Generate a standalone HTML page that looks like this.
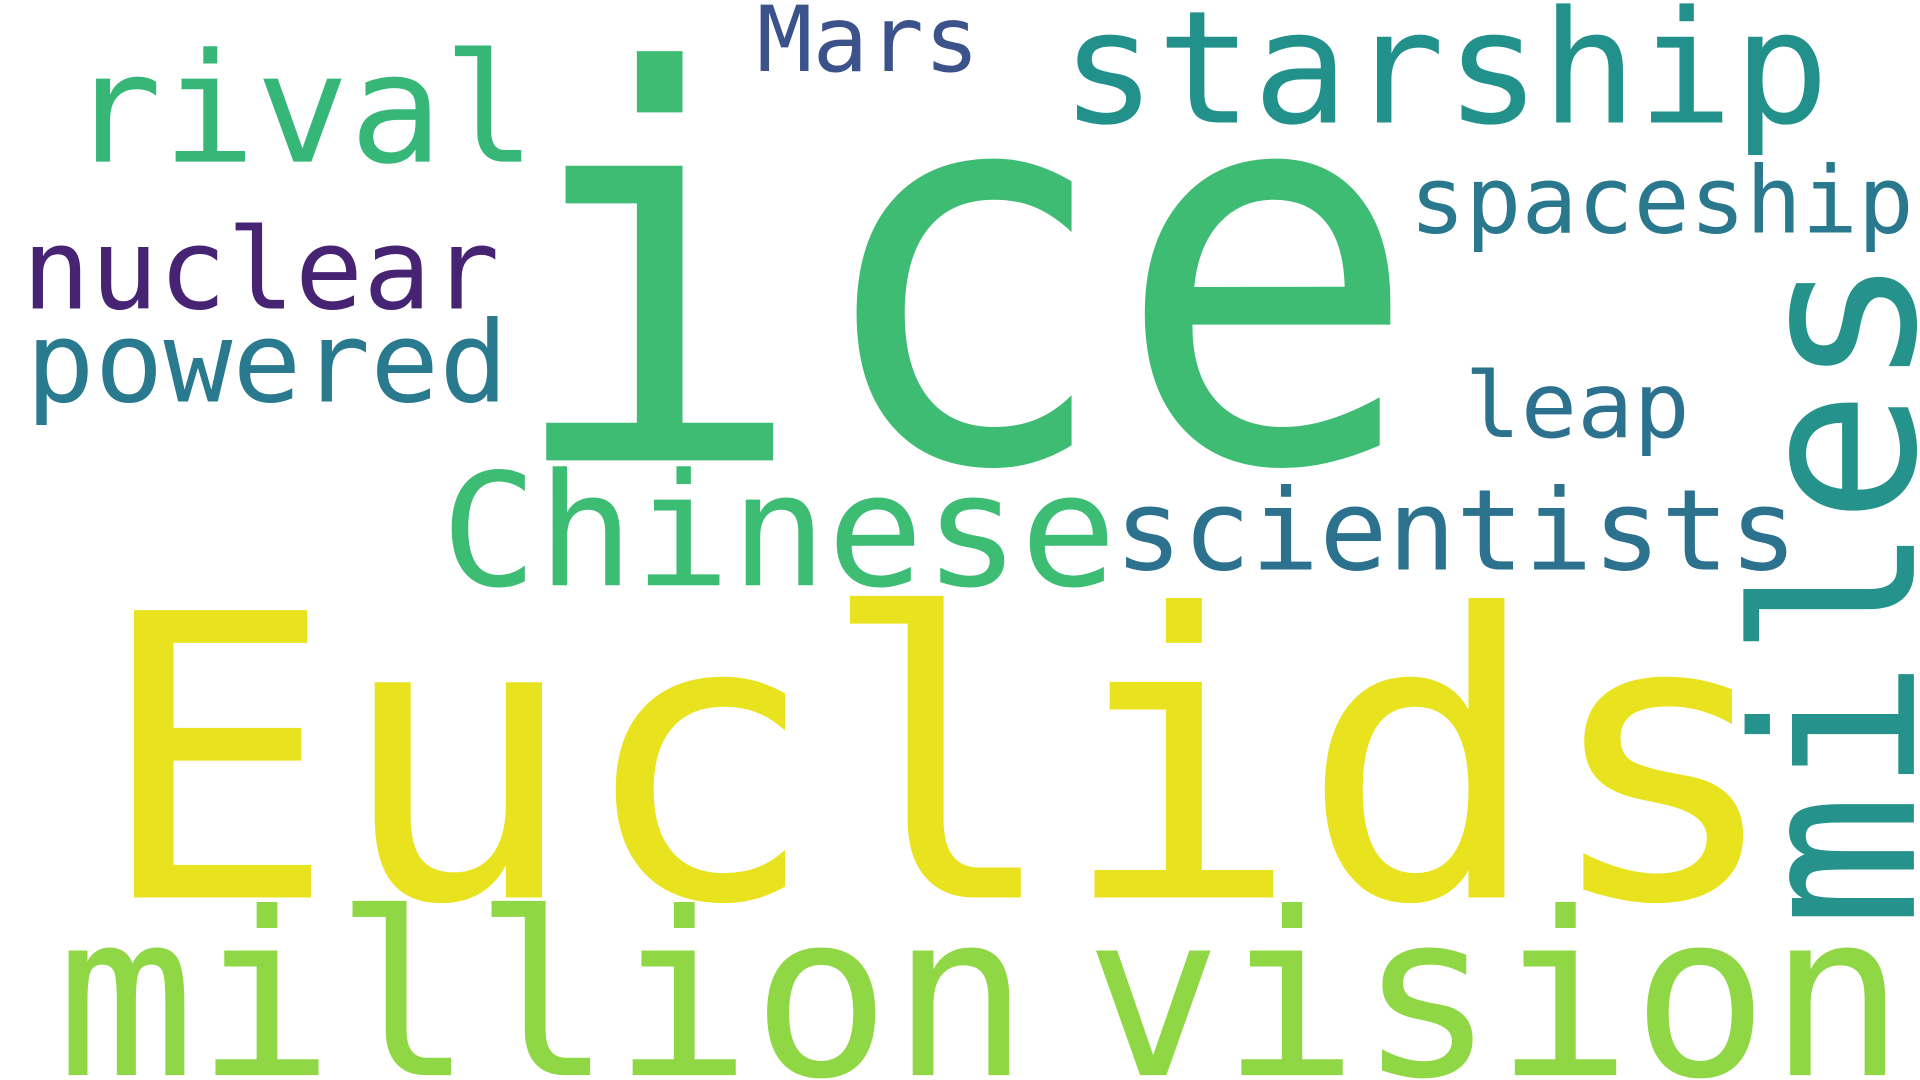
<!DOCTYPE html>
<html><head><meta charset="utf-8">
<style>
html,body{margin:0;padding:0;background:#fff;width:1920px;height:1080px;overflow:hidden}
svg{display:block}
text{font-family:"DejaVu Sans Mono","Liberation Mono",monospace}
</style></head>
<body>
<svg width="1920" height="1080" viewBox="0 0 1568 882" xmlns="http://www.w3.org/2000/svg">
<rect width="1568" height="882" fill="#fff"/>
<g>
<text x="410" y="376" font-size="440" fill="#3fbc73" textLength="750" lengthAdjust="spacingAndGlyphs">ice</text>
<text x="78" y="733" font-size="322" fill="#e8e31e" textLength="1378" lengthAdjust="spacingAndGlyphs">Euclids</text>
<text x="46" y="878" font-size="186" fill="#8fd744" textLength="795" lengthAdjust="spacingAndGlyphs">million</text>
<text x="886" y="878" font-size="186" fill="#8fd744" textLength="670" lengthAdjust="spacingAndGlyphs">vision</text>
<text transform="translate(1563,758) rotate(-90)" x="0" y="0" font-size="182" fill="#25928b" textLength="550" lengthAdjust="spacingAndGlyphs">miles</text>
<text x="360" y="478" font-size="128" fill="#3dbc74" textLength="552" lengthAdjust="spacingAndGlyphs">Chinese</text>
<text x="910" y="465" font-size="92" fill="#2c728e" textLength="558" lengthAdjust="spacingAndGlyphs">scientists</text>
<text x="866" y="100" font-size="128" fill="#23918b" textLength="628" lengthAdjust="spacingAndGlyphs">starship</text>
<text x="56" y="132" font-size="124" fill="#36b778" textLength="382" lengthAdjust="spacingAndGlyphs">rival</text>
<text x="18" y="252" font-size="92" fill="#472374" textLength="390" lengthAdjust="spacingAndGlyphs">nuclear</text>
<text x="21" y="328" font-size="92" fill="#297a8e" textLength="394" lengthAdjust="spacingAndGlyphs">powered</text>
<text x="1151" y="190" font-size="76" fill="#2a788e" textLength="412" lengthAdjust="spacingAndGlyphs">spaceship</text>
<text x="618" y="58" font-size="74" fill="#3b528b" textLength="182" lengthAdjust="spacingAndGlyphs">Mars</text>
<text x="1196" y="357" font-size="74" fill="#2c728e" textLength="184" lengthAdjust="spacingAndGlyphs">leap</text>
</g>
</svg>
</body></html>
